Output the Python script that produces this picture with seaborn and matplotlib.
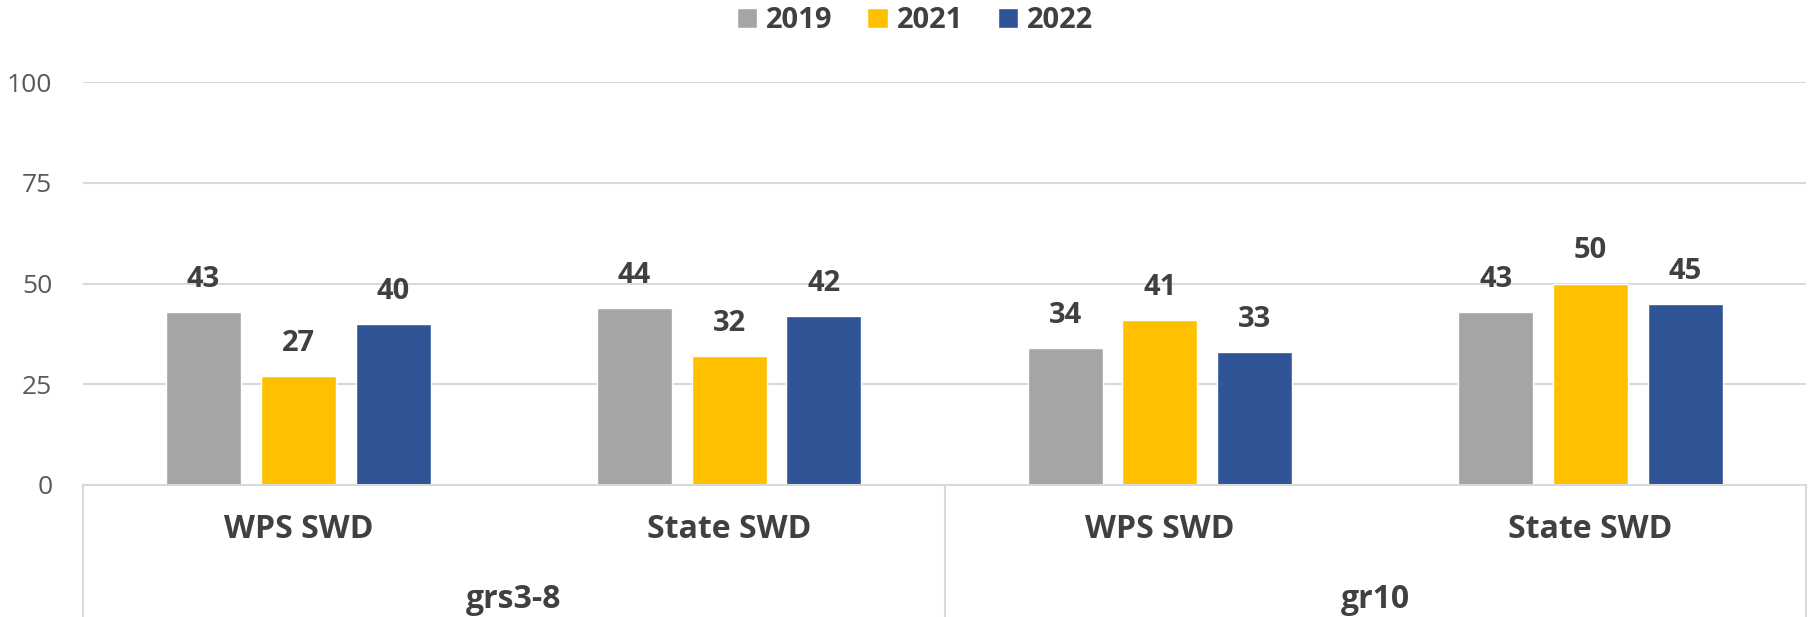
import pandas as pd
import matplotlib.pyplot as plt
import seaborn as sns

grades = ["grs3-8", "grs3-8", "gr10", "gr10"]
measures = ["WPS SWD", "State SWD", "WPS SWD", "State SWD"]
years = ["2019", "2021", "2022"]
vals_2019 = [43, 44, 34, 43]
vals_2021 = [27, 32, 41, 50]
vals_2022 = [40, 42, 33, 45]
group_names = ["grs3-8", "gr10"]

colors = ["#A5A5A5", "#FFC000", "#2F5597"]

cats = [f"{g}|{m}" for g, m in zip(grades, measures)]
rows = []
for year, vals in zip(years, [vals_2019, vals_2021, vals_2022]):
    for c, v in zip(cats, vals):
        rows.append({"cat": c, "year": year, "value": v})
df = pd.DataFrame(rows)

sns.set_style("white")
plt.rcParams["font.family"] = ["Open Sans", "DejaVu Sans"]

fig = plt.figure(figsize=(18.12, 6.17), dpi=100)
ax = fig.add_axes([0.0458, 0.214, 0.9509, 0.653])

sns.barplot(data=df, x="cat", y="value", hue="year", order=cats, hue_order=years,
            palette=colors, width=0.66, gap=0.21, ax=ax, legend=True, saturation=1)

for cont in ax.containers:
    ax.bar_label(cont, fmt="%d", padding=13, fontsize=21, fontweight="bold", color="#404040")

ax.set_ylim(0, 100)
ax.set_xlim(-0.5, 3.5)
ax.set_yticks([0, 25, 50, 75, 100])
ax.tick_params(axis="y", length=0, pad=22, labelsize=19, labelcolor="#595959")
ax.set_xticks([])
ax.set_xlabel("")
ax.set_ylabel("")
ax.yaxis.grid(True, color="#D9D9D9", linewidth=1.5)
ax.set_axisbelow(True)
for s in ["top", "right", "left"]:
    ax.spines[s].set_visible(False)
ax.spines["bottom"].set_color("#D9D9D9")
ax.spines["bottom"].set_linewidth(1.5)

trans = ax.get_xaxis_transform()
for i, m in enumerate(measures):
    ax.text(i, -0.11, m, transform=trans, ha="center", va="center",
            fontsize=23, fontweight="bold", color="#404040")
for j, g in enumerate(group_names):
    ax.text(2 * j + 0.5, -0.285, g, transform=trans, ha="center", va="center",
            fontsize=23, fontweight="bold", color="#404040")
for xs in [-0.5, 1.5, 3.5]:
    ax.plot([xs, xs], [0, -0.33], transform=trans, color="#D9D9D9",
            linewidth=1.5, clip_on=False)

handles, labels = ax.get_legend_handles_labels()
ax.legend_.remove()
fig.legend(handles, labels, loc="center", bbox_to_anchor=(0.505, 0.966), ncol=3,
           frameon=False, prop={"weight": "bold", "size": 21},
           handlelength=0.7, handleheight=0.7, handletextpad=0.3, columnspacing=1.2,
           labelcolor="#404040")

fig.savefig("out.png", dpi=100)
